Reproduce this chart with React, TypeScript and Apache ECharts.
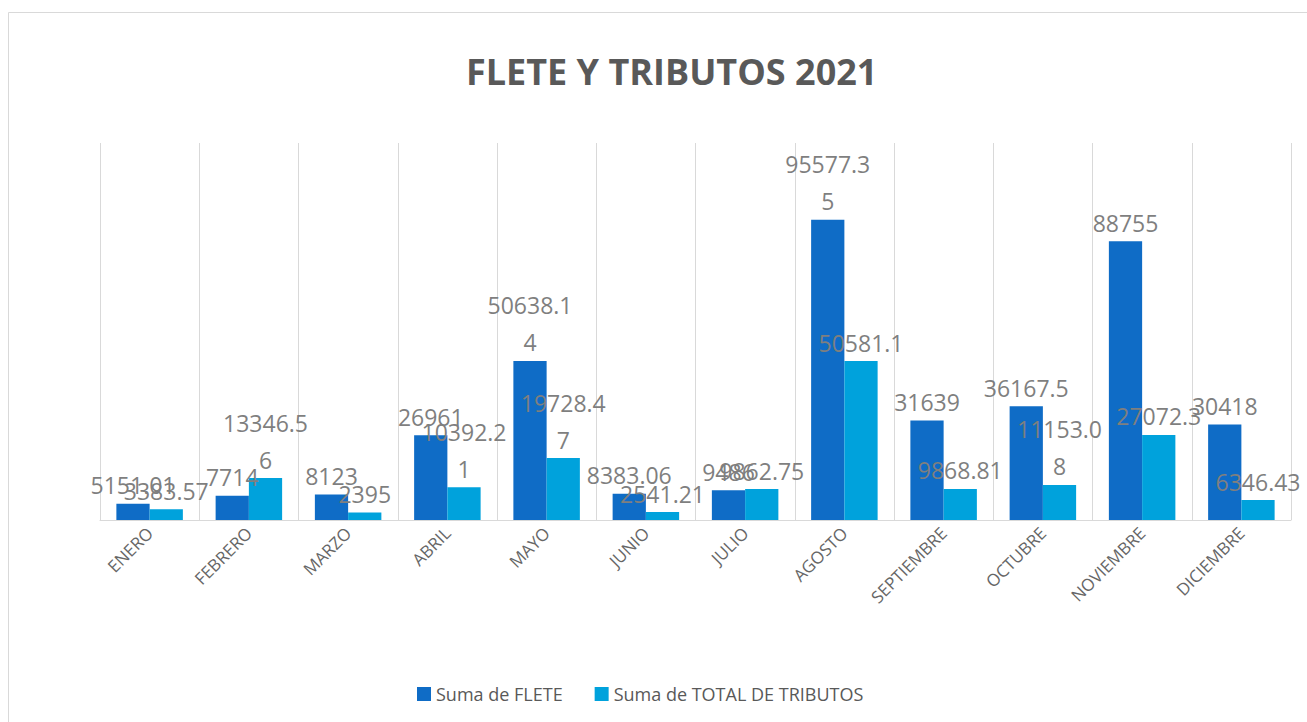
import React, { useEffect, useRef } from "react";
import * as echarts from "echarts";

const months = ["ENERO", "FEBRERO", "MARZO", "ABRIL", "MAYO", "JUNIO", "JULIO", "AGOSTO", "SEPTIEMBRE", "OCTUBRE", "NOVIEMBRE", "DICIEMBRE"];
const flete = [5151.01, 7714, 8123, 26961, 50638.14, 8383.06, 9486, 95577.35, 31639, 36167.5, 88755, 30418];
const tributos = [3383.57, 13346.56, 2395, 10392.21, 19728.47, 2541.21, 9862.75, 50581.1, 9868.81, 11153.08, 27072.3, 6346.43];

const FONT = "'Open Sans', 'Noto Sans', sans-serif";

export default function App() {
  const ref = useRef<HTMLDivElement>(null);
  useEffect(() => {
    if (!ref.current) return;
    const chart = echarts.init(ref.current, undefined, { renderer: "svg" });
    const label = {
      show: true,
      position: "top" as const,
      distance: 0,
      color: "#7f7f7f",
      fontSize: 23,
      fontFamily: FONT,
      width: 92,
      overflow: "breakAll" as const,
      lineHeight: 37,
    };
    chart.setOption({
      animation: false,
      backgroundColor: "#ffffff",
      title: {
        text: "FLETE Y TRIBUTOS 2021",
        left: 461,
        top: 48,
        textStyle: { fontFamily: FONT, fontSize: 36, fontWeight: "bold", color: "#595959" },
      },
      legend: {
        top: 680,
        left: 412,
        itemWidth: 14,
        itemHeight: 14,
        itemGap: 32,
        icon: "rect",
        textStyle: { fontFamily: FONT, fontSize: 18, color: "#595959" },
        data: ["Suma de FLETE", "Suma de TOTAL DE TRIBUTOS"],
      },
      grid: { left: 100, right: 16, top: 143, bottom: 202, containLabel: false },
      xAxis: {
        type: "category",
        data: months,
        axisLine: { lineStyle: { color: "#d9d9d9" } },
        axisTick: { show: false },
        splitLine: { show: true, lineStyle: { color: "#d9d9d9" } },
        axisLabel: { rotate: 45, fontFamily: FONT, fontSize: 17, color: "#666666", margin: 10, interval: 0 },
      },
      yAxis: {
        type: "value",
        min: 0,
        max: 120000,
        show: false,
        splitLine: { show: false },
      },
      series: [
        {
          name: "Suma de FLETE",
          type: "bar",
          data: flete,
          barGap: "0%",
          barCategoryGap: "33%",
          itemStyle: { color: "#0F6CC6" },
          label,
        },
        {
          name: "Suma de TOTAL DE TRIBUTOS",
          type: "bar",
          data: tributos,
          itemStyle: { color: "#00A2DC" },
          label,
        },
      ],
      graphic: [
        {
          type: "rect",
          shape: { x: 8.5, y: 12.5, width: 1320, height: 720 },
          style: { fill: "none", stroke: "#d9d9d9", lineWidth: 1 },
          silent: true,
        },
      ],
    });
    return () => chart.dispose();
  }, []);
  return <div ref={ref} style={{ position: "absolute", left: 0, top: 0, width: 1307, height: 722 }} />;
}
